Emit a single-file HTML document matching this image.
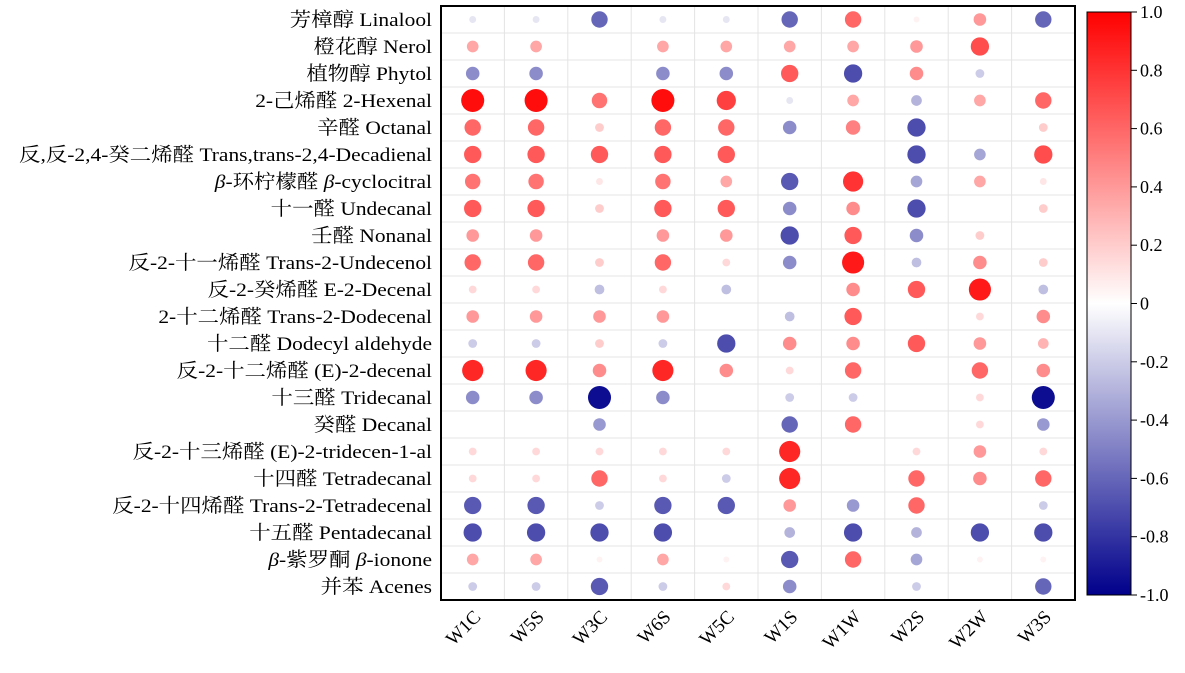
<!DOCTYPE html>
<html><head><meta charset="utf-8"><style>
body{margin:0;background:#fff;}
svg text{font-family:"Liberation Serif","Noto Serif CJK SC",serif;font-size:17px;fill:#000;}
</style></head><body>
<svg id="s" width="1185" height="668" xmlns="http://www.w3.org/2000/svg">
<defs><linearGradient id="g" x1="0" y1="0" x2="0" y2="1">
<stop offset="0" stop-color="#ff0000"/><stop offset="0.5" stop-color="#ffffff"/><stop offset="1" stop-color="#00008b"/>
</linearGradient></defs>
<g id="grid"></g>
<rect x="441" y="6" width="634" height="594" fill="none" stroke="#000" stroke-width="2"/>
<g text-anchor="end" style="font-size:19.5px" transform="translate(432,0) scale(1.1,1) translate(-432,0)">
<text x="432" y="26" style="font-size:19.5px">芳樟醇 Linalool</text>
<text x="432" y="53" style="font-size:19.5px">橙花醇 Nerol</text>
<text x="432" y="80" style="font-size:19.5px">植物醇 Phytol</text>
<text x="432" y="107" style="font-size:19.5px">2-己烯醛 2-Hexenal</text>
<text x="432" y="134" style="font-size:19.5px">辛醛 Octanal</text>
<text x="432" y="161" style="font-size:19.5px">反,反-2,4-癸二烯醛 Trans,trans-2,4-Decadienal</text>
<text x="432" y="188" style="font-size:19.5px"><tspan font-style="italic">β</tspan>-环柠檬醛 <tspan font-style="italic">β</tspan>-cyclocitral</text>
<text x="432" y="215" style="font-size:19.5px">十一醛 Undecanal</text>
<text x="432" y="242" style="font-size:19.5px">壬醛 Nonanal</text>
<text x="432" y="269" style="font-size:19.5px">反-2-十一烯醛 Trans-2-Undecenol</text>
<text x="432" y="296" style="font-size:19.5px">反-2-癸烯醛 E-2-Decenal</text>
<text x="432" y="323" style="font-size:19.5px">2-十二烯醛 Trans-2-Dodecenal</text>
<text x="432" y="350" style="font-size:19.5px">十二醛 Dodecyl aldehyde</text>
<text x="432" y="377" style="font-size:19.5px">反-2-十二烯醛 (E)-2-decenal</text>
<text x="432" y="404" style="font-size:19.5px">十三醛 Tridecanal</text>
<text x="432" y="431" style="font-size:19.5px">癸醛 Decanal</text>
<text x="432" y="458" style="font-size:19.5px">反-2-十三烯醛 (E)-2-tridecen-1-al</text>
<text x="432" y="485" style="font-size:19.5px">十四醛 Tetradecanal</text>
<text x="432" y="512" style="font-size:19.5px">反-2-十四烯醛 Trans-2-Tetradecenal</text>
<text x="432" y="539" style="font-size:19.5px">十五醛 Pentadecanal</text>
<text x="432" y="566" style="font-size:19.5px"><tspan font-style="italic">β</tspan>-紫罗酮 <tspan font-style="italic">β</tspan>-ionone</text>
<text x="432" y="593" style="font-size:19.5px">并苯 Acenes</text>
</g>
<g id="xl"></g>
<rect x="1087" y="12" width="44" height="583" fill="url(#g)" stroke="#000" stroke-width="1"/>
<g id="cb"></g>
</svg>
<script>
var V=[
[-0.1,-0.1,-0.6,-0.1,-0.1,-0.6,0.6,0.05,0.4,-0.6],
[0.35,0.35,0,0.35,0.35,0.35,0.35,0.4,0.7,0],
[-0.45,-0.45,0,-0.45,-0.45,0.65,-0.7,0.45,-0.2,0],
[0.95,0.95,0.55,0.95,0.75,-0.1,0.35,-0.3,0.35,0.6],
[0.6,0.6,0.2,0.6,0.6,-0.45,0.5,-0.7,0,0.2],
[0.65,0.65,0.65,0.65,0.65,0,0,-0.7,-0.35,0.7],
[0.55,0.55,0.1,0.55,0.35,-0.65,0.8,-0.35,0.35,0.1],
[0.65,0.65,0.2,0.65,0.65,-0.45,0.45,-0.7,0,0.2],
[0.4,0.4,0,0.4,0.4,-0.7,0.65,-0.45,0.2,0],
[0.6,0.6,0.2,0.6,0.15,-0.45,0.9,-0.25,0.45,0.2],
[0.15,0.15,-0.25,0.15,-0.25,0,0.45,0.65,0.9,-0.25],
[0.4,0.4,0.4,0.4,0,-0.25,0.65,0,0.15,0.45],
[-0.2,-0.2,0.2,-0.2,-0.7,0.45,0.45,0.65,0.4,0.3],
[0.85,0.85,0.45,0.85,0.45,0.15,0.6,0,0.6,0.45],
[-0.45,-0.45,-0.95,-0.45,0,-0.2,-0.2,0,0.15,-0.95],
[0,0,-0.4,0,0,-0.6,0.6,0,0.15,-0.4],
[0.15,0.15,0.15,0.15,0.15,0.85,0,0.15,0.4,0.15],
[0.15,0.15,0.6,0.15,-0.2,0.85,0,0.6,0.45,0.6],
[-0.65,-0.65,-0.2,-0.65,-0.65,0.4,-0.4,0.6,0,-0.2],
[-0.7,-0.7,-0.7,-0.7,0,-0.3,-0.7,-0.3,-0.7,-0.7],
[0.35,0.35,0.05,0.35,0.05,-0.65,0.6,-0.35,0.05,0.05],
[-0.2,-0.2,-0.65,-0.2,0.15,-0.45,0,-0.2,0,-0.6]];
var cols=["W1C","W5S","W3C","W6S","W5C","W1S","W1W","W2S","W2W","W3S"];
var h='',cw=63.4,rh=27;
for(var i=1;i<10;i++){var x=441+i*cw;h+='<line x1="'+x+'" y1="6" x2="'+x+'" y2="600" stroke="#e4e4e4"/>';}
for(var j=1;j<22;j++){var y=6+j*rh;h+='<line x1="441" y1="'+y+'" x2="1075" y2="'+y+'" stroke="#e4e4e4"/>';}
function col(v){var a=Math.abs(v);if(v>0){var g=Math.round(255*(1-a));return 'rgb(255,'+g+','+g+')';}
var c=Math.round(255*(1-a));return 'rgb('+c+','+c+','+Math.round(255-116*a)+')';}
for(var j=0;j<22;j++)for(var i=0;i<10;i++){var v=V[j][i];if(v==0)continue;
var cx=441+cw*(i+0.5),cy=6+rh*(j+0.5),r=2.5+9.5*Math.abs(v);
h+='<circle cx="'+cx+'" cy="'+cy+'" r="'+r+'" fill="'+col(v)+'"/>';}
document.getElementById('grid').innerHTML=h;
var x='';for(var i=0;i<10;i++){var cx=441+cw*(i+0.5)+9,cy=618;
x+='<text x="'+cx+'" y="'+cy+'" text-anchor="end" style="font-size:19px" transform="rotate(-45 '+cx+' '+cy+')">'+cols[i]+'</text>';}
document.getElementById('xl').innerHTML=x;
var c='',labs=["1.0","0.8","0.6","0.4","0.2","0","-0.2","-0.4","-0.6","-0.8","-1.0"];
for(var k=0;k<11;k++){var y=12+k*58.3;c+='<line x1="1131" y1="'+y+'" x2="1137" y2="'+y+'" stroke="#000"/><text x="1140" y="'+(y+6)+'" style="font-size:18px">'+labs[k]+'</text>';}
document.getElementById('cb').innerHTML=c;
</script>
</body></html>
